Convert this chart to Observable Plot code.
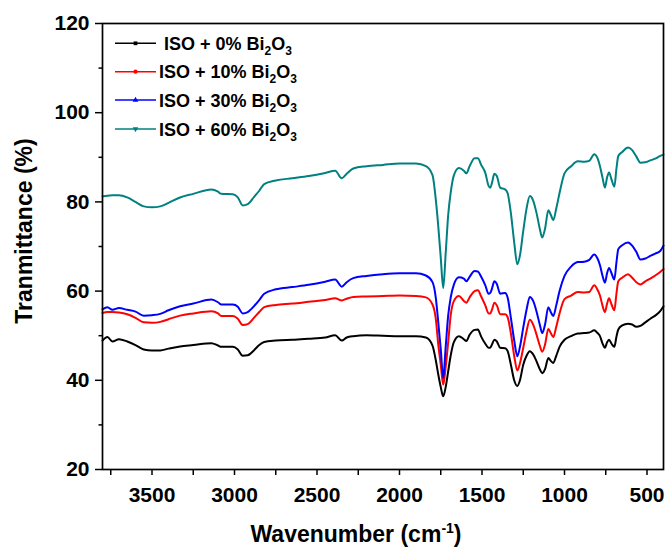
<!DOCTYPE html>
<html><head><meta charset="utf-8">
<script src="https://cdn.jsdelivr.net/npm/d3@7"></script>
<script src="https://cdn.jsdelivr.net/npm/@observablehq/plot@0.6"></script>
<style>
html,body{margin:0;padding:0;background:#fff;}
</style>
</head><body><div id="chart"></div>
<script>
// Wavenumber grid (cm-1)
const wavenumber = [
  3800, 3770, 3740, 3700, 3650, 3600, 3550, 3500, 3450, 3400,
  3330, 3250, 3140, 3100, 3080, 3010, 2980, 2950, 2920, 2880,
  2850, 2820, 2750, 2650, 2550, 2450, 2390, 2350, 2320, 2280,
  2200, 2100, 2000,
  1900, 1840, 1800, 1780, 1765, 1750, 1735, 1720, 1705, 1690,
  1670, 1640, 1610, 1595, 1575, 1545, 1525, 1505, 1480, 1460,
  1450, 1440, 1425, 1410, 1390, 1360, 1345, 1325, 1305, 1286,
  1270, 1250, 1230, 1210, 1190, 1170, 1150, 1135, 1118, 1098,
  1082, 1068, 1050, 1030, 1000,
  960, 920, 880, 850, 820, 800, 785, 770, 755, 742,
  730, 715, 698, 685, 674, 650, 615, 590, 565, 540,
  510, 480, 450, 420, 400
];
// ISO + 0% Bi2O3
const iso0 = [
  48.9, 49.7, 48.7, 49.2, 48.7, 47.9, 46.9, 46.7, 46.7, 47.1,
  47.6, 47.9, 48.3, 47.8, 47.5, 47.5, 46.9, 45.5, 45.6, 46.8,
  47.9, 48.6, 48.9, 49.1, 49.3, 49.6, 50.1, 48.9, 49.6, 49.9,
  50.1, 50.0, 49.9,
  49.9, 49.6, 47.8, 44.5, 41.3, 38.5, 36.4, 38.5, 42.0, 45.5,
  48.6, 49.9, 49.2, 48.8, 50.2, 51.3, 51.4, 49.8, 48.2, 47.3,
  47.3, 48.0, 49.1, 48.7, 47.3, 47.2, 46.6, 43.5, 40.0, 38.7,
  40.0, 43.5, 45.5, 46.5, 45.8, 44.3, 42.5, 41.6, 42.5, 45.0,
  44.3, 43.9, 45.5, 47.5, 49.1,
  49.9, 50.5, 50.6, 50.7, 51.2, 50.6, 49.9, 48.3, 47.3, 48.5,
  49.1, 48.2, 47.5, 49.8, 51.4, 52.3, 52.7, 52.5, 52.0, 52.2,
  53.0, 53.8, 54.5, 55.5, 56.6
];
// ISO + 10% Bi2O3
const iso10 = [
  55.1, 55.3, 55.3, 55.2, 54.8, 54.0, 53.0, 52.9, 53.1, 53.7,
  54.5, 55.0, 55.5, 55.0, 54.4, 54.4, 53.8, 52.4, 52.6, 54.1,
  55.3, 56.4, 56.9, 57.2, 57.6, 58.0, 58.4, 57.9, 58.3, 58.7,
  58.8, 58.9, 59.0,
  58.9, 58.6, 57.0, 53.8, 48.0, 43.5, 39.0, 43.0, 48.5, 54.5,
  57.8, 58.9, 57.8, 57.4, 58.6, 60.0, 60.2, 58.8, 56.8, 55.0,
  55.0, 55.8, 57.4, 56.8, 54.8, 54.8, 54.2, 50.5, 45.5, 42.2,
  43.8, 47.3, 51.0, 53.6, 52.5, 50.3, 47.8, 46.4, 48.0, 51.5,
  50.5, 49.7, 52.0, 55.0, 58.2,
  59.0, 59.8, 59.7, 59.8, 61.3, 60.3, 59.0, 56.8, 55.3, 57.2,
  58.4, 57.0, 55.7, 59.5, 62.2, 63.0, 63.8, 63.0, 62.0, 61.5,
  62.2, 62.8, 63.5, 64.3, 64.9
];
// ISO + 30% Bi2O3
const iso30 = [
  55.9, 56.4, 55.8, 56.2, 55.8, 55.4, 54.5, 54.6, 54.9, 55.7,
  56.6, 57.2, 58.1, 57.5, 57.0, 57.0, 56.5, 55.0, 55.3, 56.7,
  58.0, 59.4, 60.4, 60.9, 61.4, 62.1, 62.6, 61.0, 62.0, 62.9,
  63.4, 63.8, 64.0,
  64.0, 63.5, 62.0, 58.5, 53.0, 47.0, 40.5, 47.5, 54.5, 58.5,
  61.5, 63.1, 62.8, 62.2, 63.2, 64.5, 64.4, 63.2, 61.3, 59.4,
  59.6, 60.5, 62.2, 61.6, 59.4, 59.6, 58.6, 54.0, 49.0, 45.4,
  47.5, 51.8, 55.8, 58.7, 57.8, 55.5, 52.5, 50.6, 52.5, 56.4,
  55.2, 54.4, 56.8, 60.0, 63.4,
  65.5, 66.5, 66.6, 67.0, 68.2, 67.3, 65.8, 63.5, 61.9, 64.0,
  65.2, 64.0, 62.6, 66.5, 69.4, 70.3, 70.9, 70.2, 68.8, 67.1,
  67.3, 67.9, 68.4, 69.0, 70.2
];
// ISO + 60% Bi2O3
const iso60 = [
  81.2, 81.4, 81.5, 81.5, 81.0, 80.0, 79.0, 78.8, 79.0, 79.8,
  81.0, 81.8, 82.8, 82.3, 81.8, 81.7, 81.0, 79.2, 79.5, 81.2,
  82.5, 84.0, 84.8, 85.3, 85.8, 86.5, 87.0, 85.3, 86.3, 87.5,
  88.0, 88.3, 88.6,
  88.6, 88.0, 86.0, 80.5, 74.5, 67.5, 60.7, 68.5, 77.0, 82.0,
  86.0, 87.6, 87.0, 86.4, 88.0, 89.8, 89.8, 88.3, 86.5, 83.6,
  83.2, 84.2, 86.3, 85.8, 83.2, 82.8, 82.0, 77.5, 71.0, 66.0,
  68.0, 73.5, 78.5, 81.3, 80.3, 77.6, 74.0, 72.0, 74.0, 78.1,
  77.0, 75.9, 78.5, 82.0, 86.4,
  88.0, 89.1, 89.0, 89.2, 90.7, 89.8, 88.0, 85.5, 83.2, 85.5,
  86.6, 85.0, 83.4, 87.5, 90.3, 91.2, 92.2, 91.6, 90.2, 88.8,
  88.9, 89.3, 89.7, 90.3, 90.6
];

const seriesLabels = ["ISO + 0%", "ISO + 10%", "ISO + 30%", "ISO + 60%"];
const seriesColors = ["#000000", "#ff0000", "#0000ff", "#008080"];
const yTicks = [20, 40, 60, 80, 100, 120];
const yMinorTicks = [30, 50, 70, 90, 110];
const xTicks = [3500, 3000, 2500, 2000, 1500, 1000, 500];
const xMinorTicks = [3750, 3250, 2750, 2250, 1750, 1250, 750];

const allSeries = [iso0, iso10, iso30, iso60];
const rows = [];
allSeries.forEach((vals, s) => vals.forEach((v, i) => rows.push({series: s, wn: wavenumber[i], t: v})));

const font = "'Liberation Sans', Arial, Helvetica, sans-serif";
const svg = Plot.plot({
  width: 667, height: 548,
  marginLeft: 102, marginRight: 4, marginTop: 23, marginBottom: 79,
  style: {fontFamily: font, fontWeight: "bold", fontSize: "21px", color: "#000", background: "#fff", overflow: "visible"},
  x: {domain: [3800, 400]},
  y: {domain: [20, 120]},
  marks: [
    ...allSeries.map((_, s) => Plot.line(rows.filter(d => d.series === s), {
      x: "wn", y: "t", stroke: seriesColors[s], strokeWidth: 2, curve: "monotone-x"
    })),
    Plot.axisY({ticks: yTicks, tickSize: 7, tickPadding: 6, tickFormat: "d", label: null, strokeWidth: 1.5}),
    Plot.axisY({ticks: yMinorTicks, tickSize: 3.5, tickFormat: () => "", label: null, strokeWidth: 1.5}),
    Plot.axisX({ticks: xTicks, tickSize: 6, tickPadding: 12, tickFormat: "d", label: null, strokeWidth: 1.5}),
    Plot.axisX({ticks: xMinorTicks, tickSize: 6, tickFormat: () => "", label: null, strokeWidth: 1.5}),
    Plot.frame({stroke: "#000", strokeWidth: 1.7})
  ]
});

const s = d3.select(svg);
// Axis titles
s.append("text")
  .attr("transform", "translate(32,231) rotate(-90)")
  .attr("text-anchor", "middle")
  .attr("fill", "#000")
  .style("font-size", "23px")
  .text("Tranmittance (%)");
const xt = s.append("text")
  .attr("x", 356).attr("y", 542)
  .attr("text-anchor", "middle")
  .attr("fill", "#000")
  .style("font-size", "23px");
xt.append("tspan").text("Wavenumber (cm");
xt.append("tspan").attr("dy", -9).style("font-size", "14px").text("-1");
xt.append("tspan").attr("dy", 9).text(")");

// Legend
const legendRowsY = [43.3, 71.7, 100, 129];
const symbols = [d3.symbolSquare, d3.symbolCircle, d3.symbolTriangle, d3.symbolTriangle];
const lg = s.append("g");
seriesLabels.forEach((lab, i) => {
  const y = legendRowsY[i];
  lg.append("line").attr("x1", 115).attr("x2", 156).attr("y1", y).attr("y2", y)
    .attr("stroke", seriesColors[i]).attr("stroke-width", 1.5);
  lg.append("path").attr("d", d3.symbol(symbols[i], 14)())
    .attr("transform", `translate(135.5,${y})` + (i === 3 ? " rotate(180)" : ""))
    .attr("fill", seriesColors[i]);
  const t = lg.append("text").attr("x", i === 0 ? 164 : 159).attr("y", y + 6.5)
    .attr("text-anchor", "start")
    .attr("fill", "#000").style("font-size", "18px");
  t.append("tspan").text(lab + " Bi");
  t.append("tspan").attr("dy", 5).style("font-size", "12px").text("2");
  t.append("tspan").attr("dy", -5).text("O");
  t.append("tspan").attr("dy", 5).style("font-size", "12px").text("3");
});

document.getElementById("chart").appendChild(svg);
</script>
</body></html>
